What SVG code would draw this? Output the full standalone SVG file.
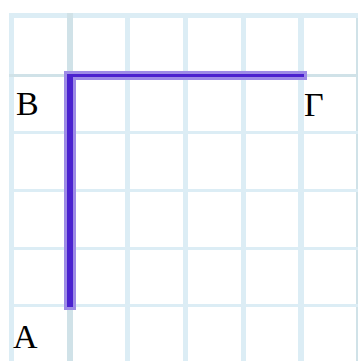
<svg xmlns="http://www.w3.org/2000/svg" width="358" height="361" viewBox="0 0 358 361">
<style>
.gv{fill:#dcedf5}
.gh{fill:#dcedf5}
.ax{fill:#d0e2e8}
.halo{fill:#9d8be6}
.core{fill:#4a21cf}
.lbl{font-family:"Liberation Serif","DejaVu Serif",serif;font-size:34px;fill:#000}
</style>
<rect width="358" height="361" fill="#ffffff"/>
<g id="grid">
<rect class="gv" x="9" y="13" width="5" height="348"/>
<rect class="gv" x="125" y="13" width="5" height="348"/>
<rect class="gv" x="183" y="13" width="5" height="348"/>
<rect class="gv" x="241" y="13" width="5" height="348"/>
<rect class="gv" x="298" y="13" width="6" height="348"/>
<rect class="ax" x="356" y="13" width="2" height="348"/>
<rect class="gh" x="9" y="13" width="349" height="5"/>
<rect class="gh" x="9" y="131" width="349" height="3"/>
<rect class="gh" x="9" y="189" width="349" height="3"/>
<rect class="gh" x="9" y="247" width="349" height="3"/>
<rect class="gh" x="9" y="304" width="349" height="3"/>
<rect class="ax" x="67" y="13" width="6" height="348"/>
<rect class="ax" x="9" y="74" width="349" height="3"/>
</g>
<g id="connectors">
<rect class="halo" x="64" y="71" width="243" height="9"/>
<rect class="halo" x="64" y="71" width="12" height="239"/>
<rect class="core" x="67" y="74" width="237" height="3"/>
<rect class="core" x="67" y="74" width="6" height="233"/>
</g>
<g id="B"><text class="lbl" x="16" y="115">B</text></g>
<g id="Gamma"><text class="lbl" x="304" y="116">Γ</text></g>
<g id="A"><text class="lbl" x="13" y="348">A</text></g>
</svg>
